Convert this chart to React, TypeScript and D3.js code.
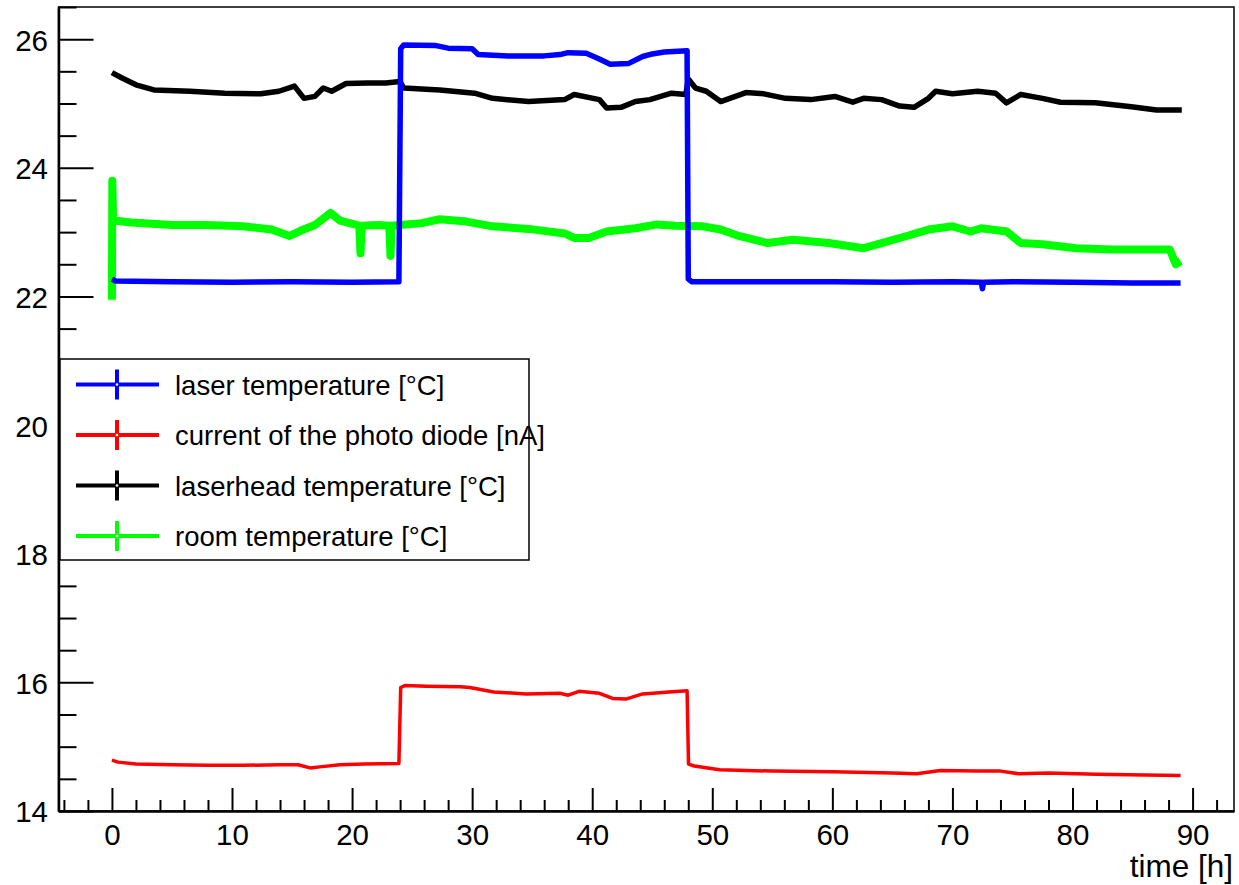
import React, { useEffect, useRef } from 'react';
import * as d3 from 'd3';

// [time (h), value]
const laserTemp: [number, number][] = [
  [0, 22.27], [0.3, 22.24], [5, 22.23], [10, 22.22], [15, 22.23], [20, 22.22], [23.9, 22.23],
  [24.05, 25.85], [24.3, 25.91], [27, 25.9], [28, 25.86], [30, 25.85], [30.5, 25.76], [33, 25.74],
  [36, 25.74], [37.3, 25.76], [38, 25.79], [39.5, 25.78], [40.5, 25.7], [41.5, 25.61], [43, 25.62],
  [44.2, 25.73], [45, 25.77], [46, 25.8], [47.9, 25.82], [48.0, 22.27], [48.3, 22.23], [55, 22.23],
  [60, 22.23], [65, 22.22], [70, 22.23], [72.4, 22.22], [72.5, 22.12], [72.6, 22.22], [75, 22.23],
  [80, 22.22], [85, 22.21], [89, 22.21],
];

const photoCurrent: [number, number][] = [
  [0, 14.79], [0.5, 14.76], [2, 14.73], [5, 14.72], [8, 14.71], [11, 14.71], [14, 14.72],
  [15.5, 14.72], [16.5, 14.67], [17.5, 14.69], [19, 14.72], [21, 14.73], [23.9, 14.74],
  [24.05, 15.92], [24.4, 15.95], [26.2, 15.94], [29, 15.93], [29.8, 15.92], [31.8, 15.85],
  [34.5, 15.82], [37.3, 15.83], [38.0, 15.8], [38.9, 15.86], [40.6, 15.83], [41.7, 15.75],
  [42.8, 15.74], [44.2, 15.82], [46.4, 15.85], [47.9, 15.87], [48.02, 14.73], [48.5, 14.7],
  [50.6, 14.64], [55, 14.62], [60, 14.61], [65, 14.59], [67, 14.58], [69, 14.63], [72, 14.62],
  [74, 14.62], [75.5, 14.58], [78, 14.59], [82, 14.57], [86, 14.56], [89, 14.55],
];

const headTemp: [number, number][] = [
  [0, 25.48], [0.8, 25.4], [2.0, 25.29], [3.5, 25.21], [6.5, 25.19], [9.4, 25.16], [12.4, 25.15],
  [13.9, 25.19], [15.2, 25.27], [16.0, 25.08], [16.9, 25.11], [17.6, 25.24], [18.3, 25.19],
  [19.5, 25.31], [21.3, 25.32], [22.8, 25.32], [24.0, 25.34], [24.3, 25.24], [27.3, 25.21],
  [30.2, 25.16], [31.7, 25.08], [34.7, 25.03], [37.7, 25.06], [38.5, 25.14], [40.6, 25.06],
  [41.2, 24.93], [42.4, 24.94], [43.6, 25.03], [44.8, 25.06], [46.6, 25.16], [47.8, 25.14],
  [48.0, 25.38], [48.6, 25.24], [49.5, 25.19], [50.7, 25.03], [52.8, 25.17], [54.3, 25.15],
  [56.1, 25.08], [58.2, 25.06], [60.2, 25.11], [61.7, 25.02], [62.6, 25.08], [64.1, 25.06],
  [65.6, 24.96], [66.8, 24.94], [68.0, 25.08], [68.6, 25.19], [70.0, 25.15], [72.1, 25.19],
  [73.6, 25.16], [74.5, 25.01], [75.7, 25.14], [77.5, 25.08], [79.0, 25.02], [81.9, 25.01],
  [84.9, 24.95], [87.0, 24.9], [89.1, 24.9],
];

const roomTemp: [number, number][] = [
  [0, 21.95], [0.03, 23.8], [0.1, 23.18], [1.6, 23.15], [5.0, 23.11], [7.9, 23.11], [10.9, 23.09],
  [13.3, 23.04], [14.8, 22.94], [15.7, 23.02], [16.9, 23.11], [18.2, 23.3], [19.0, 23.18],
  [19.8, 23.14], [20.6, 23.1], [20.7, 22.67], [20.8, 23.1], [22.2, 23.11], [23.1, 23.1],
  [23.2, 22.63], [23.3, 23.1], [24.0, 23.11], [25.8, 23.14], [27.3, 23.2], [29.3, 23.17],
  [31.7, 23.09], [34.7, 23.05], [37.7, 22.98], [38.5, 22.91], [39.7, 22.91], [41.2, 23.01],
  [43.6, 23.06], [45.4, 23.12], [46.9, 23.1], [49.2, 23.09], [50.7, 23.04], [52.2, 22.94],
  [54.6, 22.83], [56.7, 22.88], [59.7, 22.83], [62.6, 22.75], [64.1, 22.83], [66.2, 22.94],
  [68.0, 23.04], [70.0, 23.09], [71.5, 23.01], [72.4, 23.06], [74.5, 23.01], [75.7, 22.83],
  [77.5, 22.81], [80.3, 22.75], [83.3, 22.73], [86.3, 22.73], [88.1, 22.73], [88.6, 22.5],
  [89.0, 22.55],
];

const xMajorTicks = [0, 10, 20, 30, 40, 50, 60, 70, 80, 90];
const yMajorTicks = [14, 16, 18, 20, 22, 24, 26];

const legendEntries = [
  { label: 'laser temperature [°C]', color: '#0000ff' },
  { label: 'current of the photo diode [nA]', color: '#ff0000' },
  { label: 'laserhead temperature [°C]', color: '#000000' },
  { label: 'room temperature [°C]', color: '#00ff00' },
];

const FONT = '"Liberation Sans", Arial, Helvetica, sans-serif';

export default function App() {
  const ref = useRef<SVGSVGElement>(null);

  useEffect(() => {
    const svg = d3.select(ref.current);
    svg.selectAll('*').remove();

    const left = 58.5, right = 1234, top = 7, bottom = 811;

    const x = d3.scaleLinear().domain([-4.45, 93.45]).range([left, right]);
    const y = d3.scaleLinear().domain([14, 26.5]).range([bottom, top]);

    // frame
    svg.append('rect')
      .attr('x', left).attr('y', top)
      .attr('width', right - left).attr('height', bottom - top)
      .attr('fill', 'white')
      .attr('stroke', 'black')
      .attr('stroke-width', 1.5);

    // curves
    const line = d3.line<[number, number]>()
      .x(d => x(d[0]))
      .y(d => y(d[1]));

    const curves = [
      { data: photoCurrent, color: '#ff0000', width: 3.5 },
      { data: headTemp, color: '#000000', width: 5.5 },
      { data: roomTemp, color: '#00ff00', width: 8 },
      { data: laserTemp, color: '#0000ff', width: 5.5 },
    ];
    curves.forEach(c => {
      svg.append('path')
        .attr('d', line(c.data))
        .attr('fill', 'none')
        .attr('stroke', c.color)
        .attr('stroke-width', c.width)
        .attr('stroke-linejoin', 'round');
    });

    // x axis, ticks pointing inward
    const xMinor = d3.range(-4, 94, 2).filter(v => v % 10 !== 0);
    svg.append('g')
      .attr('transform', `translate(0,${bottom})`)
      .call(d3.axisBottom(x).tickValues(xMinor).tickSize(-11).tickSizeOuter(0).tickFormat(() => ''))
      .call(g => g.select('.domain').remove())
      .selectAll('line').attr('stroke-width', 2);

    const xAxis = svg.append('g')
      .attr('transform', `translate(0,${bottom})`)
      .call(d3.axisBottom(x).tickValues(xMajorTicks).tickSize(-23).tickSizeOuter(0).tickFormat(d3.format('d')));
    xAxis.select('.domain').attr('stroke-width', 2.5);
    xAxis.selectAll('line').attr('stroke-width', 2);
    xAxis.selectAll('text')
      .attr('y', 34).attr('dy', 0)
      .style('font-size', '29.5px')
      .style('font-family', FONT)
      .attr('fill', 'black');

    // y axis
    const yMinor = d3.range(14, 26.51, 0.5).filter(v => v % 2 !== 0);
    svg.append('g')
      .attr('transform', `translate(${left},0)`)
      .call(d3.axisLeft(y).tickValues(yMinor).tickSize(-18).tickSizeOuter(0).tickFormat(() => ''))
      .call(g => g.select('.domain').remove())
      .selectAll('line').attr('stroke-width', 2);

    const yAxis = svg.append('g')
      .attr('transform', `translate(${left},0)`)
      .call(d3.axisLeft(y).tickValues(yMajorTicks).tickSize(-35).tickSizeOuter(0).tickFormat(d3.format('d')));
    yAxis.select('.domain').attr('stroke-width', 2.5);
    yAxis.selectAll('line').attr('stroke-width', 2);
    yAxis.selectAll('text')
      .attr('x', -10.5).attr('dy', '0.37em')
      .style('font-size', '29.5px')
      .style('font-family', FONT)
      .attr('fill', 'black');

    // x axis title
    svg.append('text')
      .attr('x', right - 1)
      .attr('y', 877)
      .attr('text-anchor', 'end')
      .style('font-size', '31.5px')
      .style('font-family', FONT)
      .text('time [h]');

    // legend
    const legend = svg.append('g');
    legend.append('rect')
      .attr('x', 60).attr('y', 359)
      .attr('width', 469).attr('height', 201)
      .attr('fill', 'white')
      .attr('stroke', 'black')
      .attr('stroke-width', 1.5);

    legendEntries.forEach((e, i) => {
      const ry = 384.5 + i * 50.5;
      legend.append('line')
        .attr('x1', 76).attr('x2', 159)
        .attr('y1', ry).attr('y2', ry)
        .attr('stroke', e.color)
        .attr('stroke-width', 4);
      legend.append('line')
        .attr('x1', 117).attr('x2', 117)
        .attr('y1', ry - 15).attr('y2', ry + 15)
        .attr('stroke', e.color)
        .attr('stroke-width', 4);
      legend.append('circle')
        .attr('cx', 117).attr('cy', ry)
        .attr('r', 1.3)
        .attr('fill', 'white');
      legend.append('text')
        .attr('x', 175)
        .attr('y', ry + 10)
        .style('font-size', '27.5px')
        .style('font-family', FONT)
        .attr('fill', 'black')
        .text(e.label);
    });
  }, []);

  return (
    <svg
      ref={ref}
      width={1239}
      height={885}
      style={{ position: 'absolute', left: 0, top: 0, background: 'white' }}
    />
  );
}
